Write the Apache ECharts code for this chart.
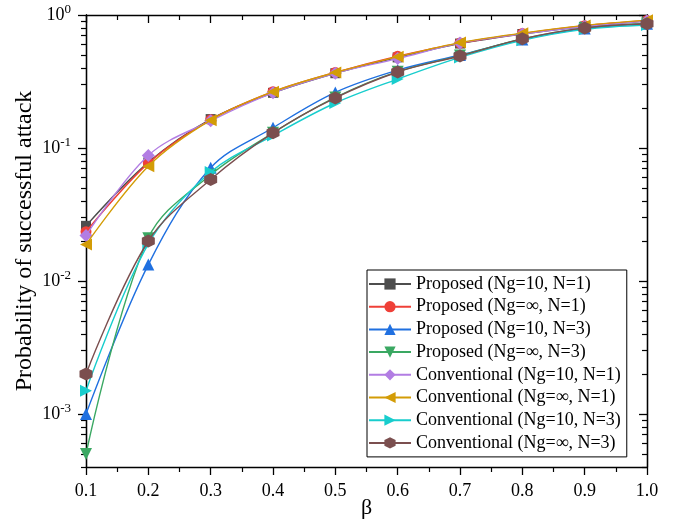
<!DOCTYPE html>
<html><head><meta charset="utf-8">
<script src="https://cdn.jsdelivr.net/npm/echarts@6/dist/echarts.min.js"></script>
<style>html,body{margin:0;padding:0;background:#fff}#c{width:681px;height:525px}</style>
</head><body><div id="c"></div>
<script>
const beta = [0.1,0.2,0.3,0.4,0.5,0.6,0.7,0.8,0.9,1.0];
const propNg10N1 = [0.026, 0.078, 0.165, 0.26, 0.365, 0.48, 0.61, 0.72, 0.82, 0.90];
const propInfN1  = [0.0235, 0.077, 0.163, 0.265, 0.37, 0.49, 0.615, 0.725, 0.83, 0.91];
const propNg10N3 = [0.001, 0.0133, 0.071, 0.142, 0.262, 0.385, 0.50, 0.655, 0.79, 0.86];
const propInfN3  = [0.0005, 0.021, 0.063, 0.13, 0.24, 0.375, 0.495, 0.66, 0.80, 0.865];
const convNg10N1 = [0.022, 0.088, 0.16, 0.26, 0.365, 0.47, 0.615, 0.72, 0.82, 0.90];
const convInfN1  = [0.0188, 0.073, 0.162, 0.265, 0.37, 0.485, 0.62, 0.73, 0.835, 0.915];
const convNg10N3 = [0.0015, 0.019, 0.066, 0.124, 0.218, 0.33, 0.48, 0.645, 0.78, 0.84];
const convInfN3  = [0.002, 0.020, 0.058, 0.13, 0.238, 0.373, 0.492, 0.662, 0.80, 0.86];
const names = ['Proposed (Ng=10, N=1)','Proposed (Ng=\u221E, N=1)','Proposed (Ng=10, N=3)','Proposed (Ng=\u221E, N=3)',
  'Conventional (Ng=10, N=1)','Conventional (Ng=\u221E, N=1)','Conventional (Ng=10, N=3)','Conventional (Ng=\u221E, N=3)'];
const yMajor = [0.001, 0.01, 0.1, 1];
const yMinor = [];
[0.0001,0.001,0.01,0.1].forEach(d=>{for(let k=2;k<=9;k++){const v=+(d*k).toPrecision(3); if(v>=0.0004 && v<1) yMinor.push(v);}});

const seriesData = [propNg10N1,propInfN1,propNg10N3,propInfN3,convNg10N1,convInfN1,convNg10N3,convInfN3];
const colors = ['#4d4d4d','#ef4038','#2070e0','#3aa862','#b27de3','#d39c06','#18cdcd','#7b4f4f'];
const hex = 'path://M0,-1 L0.866,-0.5 L0.866,0.5 L0,1 L-0.866,0.5 L-0.866,-0.5 Z';
const symbols = ['rect','circle','triangle','triangle','diamond','triangle','triangle',hex];
const rots = [0,0,0,180,0,90,-90,0];
const sizes = [10,11,12,12,13,12,12,13];

const font = '"Liberation Serif","Times New Roman",serif';
const chart = echarts.init(document.getElementById('c'), null, {renderer:'canvas'});
const axLine = {show:true, lineStyle:{color:'#000', width:1.3}};
const yBase = {type:'log', min:0.0004, max:1, logBase:10, gridIndex:0, splitLine:{show:false}, minorTick:{show:false}, axisLine:axLine};
chart.setOption({
  animation:false,
  color: colors,
  grid:{left:86, right:34, top:15, bottom:58, containLabel:false, outerBoundsMode:'none'},
  xAxis:[
    {type:'value', min:0.1, max:1.0, interval:0.1, position:'bottom',
     axisLine:axLine, axisTick:{inside:false, length:8, lineStyle:{color:'#000', width:1.3}},
     minorTick:{show:true, splitNumber:2, length:5, lineStyle:{color:'#000', width:1.2}},
     splitLine:{show:false},
     axisLabel:{fontFamily:font, fontSize:18, color:'#000', margin:15, formatter:v=>v.toFixed(1)},
     name:'\u03B2', nameLocation:'middle', nameGap:30, nameMoveOverlap:false,
     nameTextStyle:{fontFamily:font, fontSize:22, color:'#000'}},
    {type:'value', min:0.1, max:1.0, interval:0.1, position:'top',
     axisLine:axLine, axisTick:{inside:true, length:8, lineStyle:{color:'#000', width:1.3}},
     minorTick:{show:true, splitNumber:2, length:5, lineStyle:{color:'#000', width:1.2}},
     splitLine:{show:false}, axisLabel:{show:false}}
  ],
  yAxis:[
    Object.assign({}, yBase, {position:'left',
      axisTick:{show:true, inside:false, length:8, customValues:yMajor, lineStyle:{color:'#000', width:1.3}},
      axisLabel:{show:true, customValues:yMajor, margin:15, fontFamily:font, color:'#000',
        formatter:v=>'{b|10}{s|'+Math.round(Math.log10(v))+'}',
        rich:{b:{fontFamily:font, fontSize:18, color:'#000'}, s:{fontFamily:font, fontSize:13, color:'#000', padding:[0,0,10,0]}}},
      name:'Probability of successful attack', nameLocation:'middle', nameGap:49, nameMoveOverlap:false,
      nameTextStyle:{fontFamily:font, fontSize:24, color:'#000'}}),
    Object.assign({}, yBase, {position:'left',
      axisTick:{show:true, inside:false, length:5, customValues:yMinor, lineStyle:{color:'#000', width:1.2}},
      axisLabel:{show:false}}),
    Object.assign({}, yBase, {position:'right',
      axisTick:{show:true, inside:true, length:8, customValues:yMajor, lineStyle:{color:'#000', width:1.3}},
      axisLabel:{show:false}}),
    Object.assign({}, yBase, {position:'right',
      axisTick:{show:true, inside:true, length:5, customValues:yMinor, lineStyle:{color:'#000', width:1.2}},
      axisLabel:{show:false}})
  ],
  legend:{
    orient:'vertical', left:367, top:270, width:257,
    padding:[5,6,5,1], itemGap:4.7, itemWidth:42, itemHeight:14,
    borderColor:'#000', borderWidth:1, backgroundColor:'#fff',
    textStyle:{fontFamily:font, fontSize:18, color:'#000', lineHeight:18, padding:[0,0,0,0]},
    data: names
  },
  series: seriesData.map((d,i)=>({
    name:names[i], type:'line', xAxisIndex:0, yAxisIndex:0,
    data: beta.map((b,j)=>[b,d[j]]),
    smooth:0.35, symbol:symbols[i], symbolRotate:rots[i], symbolSize:sizes[i],
    showAllSymbol:true,
    lineStyle:{width:1.4, color:colors[i]}, itemStyle:{color:colors[i]},
    z: 2+i
  }))
});
</script></body></html>
